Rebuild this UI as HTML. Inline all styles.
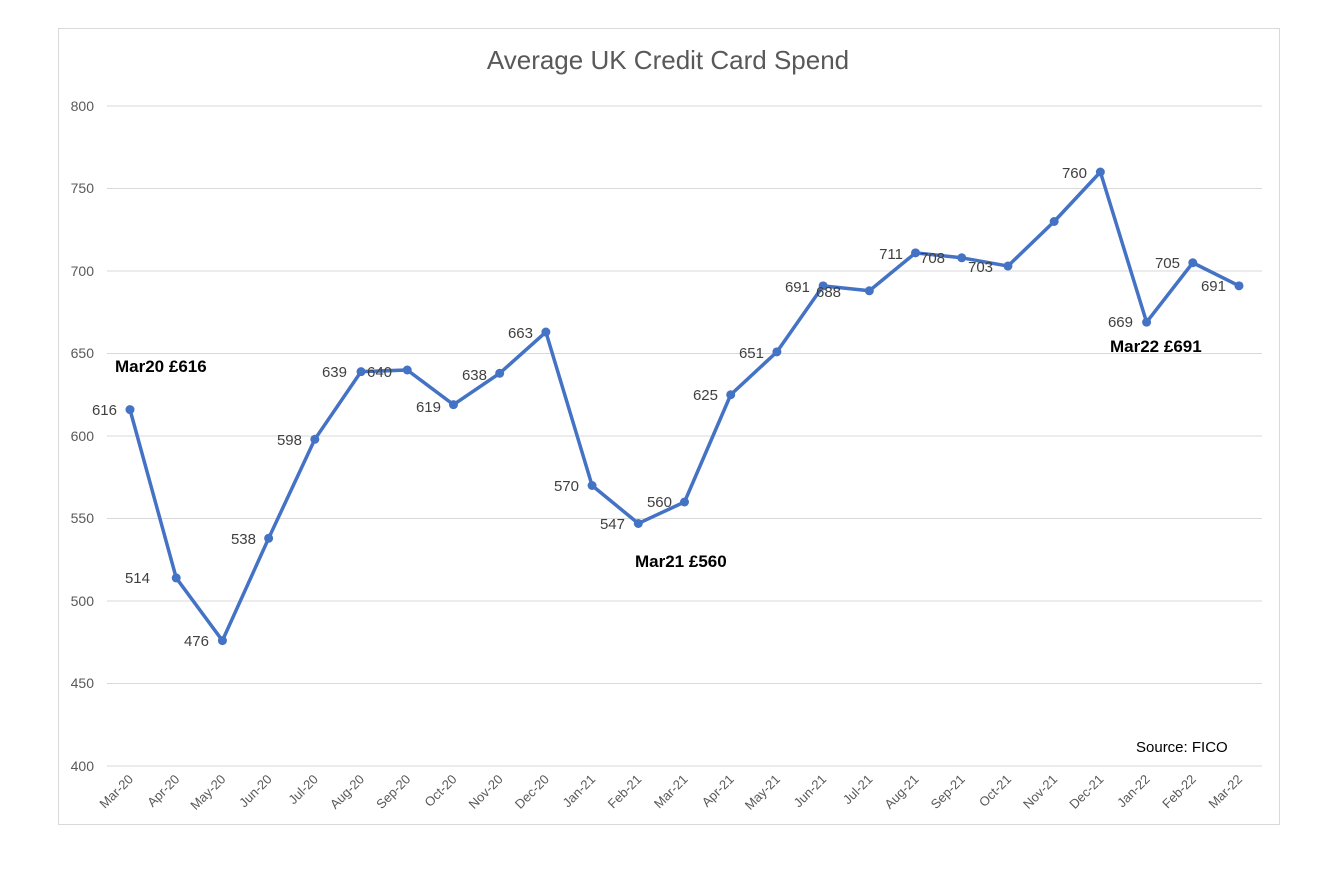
<!DOCTYPE html>
<html><head><meta charset="utf-8"><style>
body{margin:0;background:#fff}
svg{display:block;font-family:"Liberation Sans",sans-serif}
</style></head><body>
<svg width="1325" height="887" viewBox="0 0 1325 887">
<rect x="0" y="0" width="1325" height="887" fill="#fff"/>
<rect x="58.5" y="28.5" width="1221" height="796" fill="#fff" stroke="#d9d9d9"/>
<text x="668" y="69" text-anchor="middle" font-size="26" fill="#595959">Average UK Credit Card Spend</text>
<g stroke="#d9d9d9" stroke-width="1">
<line x1="107" x2="1262" y1="106" y2="106"/><line x1="107" x2="1262" y1="188.5" y2="188.5"/>
<line x1="107" x2="1262" y1="271" y2="271"/><line x1="107" x2="1262" y1="353.5" y2="353.5"/>
<line x1="107" x2="1262" y1="436" y2="436"/><line x1="107" x2="1262" y1="518.5" y2="518.5"/>
<line x1="107" x2="1262" y1="601" y2="601"/><line x1="107" x2="1262" y1="683.5" y2="683.5"/>
<line x1="107" x2="1262" y1="766" y2="766"/>
</g>
<g font-size="14" fill="#595959" text-anchor="end">
<text x="94" y="111">800</text><text x="94" y="193">750</text><text x="94" y="276">700</text>
<text x="94" y="358">650</text><text x="94" y="441">600</text><text x="94" y="523">550</text>
<text x="94" y="606">500</text><text x="94" y="688">450</text><text x="94" y="771">400</text>
</g>
<g id="xl" font-size="13" fill="#595959" text-anchor="end"></g>
<polyline id="ln" fill="none" stroke="#4472C4" stroke-width="3.5" stroke-linejoin="round"/>
<g id="mk" fill="#4472C4"></g>
<g font-size="15" fill="#404040">
<text x="117" y="415" text-anchor="end">616</text>
<text x="150" y="583" text-anchor="end">514</text>
<text x="209" y="646" text-anchor="end">476</text>
<text x="256" y="544" text-anchor="end">538</text>
<text x="302" y="445" text-anchor="end">598</text>
<text x="347" y="377" text-anchor="end">639</text>
<text x="367" y="377">640</text>
<text x="441" y="412" text-anchor="end">619</text>
<text x="487" y="380" text-anchor="end">638</text>
<text x="533" y="338" text-anchor="end">663</text>
<text x="579" y="491" text-anchor="end">570</text>
<text x="625" y="529" text-anchor="end">547</text>
<text x="672" y="507" text-anchor="end">560</text>
<text x="718" y="400" text-anchor="end">625</text>
<text x="764" y="358" text-anchor="end">651</text>
<text x="810" y="292" text-anchor="end">691</text>
<text x="816" y="297">688</text>
<text x="903" y="259" text-anchor="end">711</text>
<text x="920" y="263">708</text>
<text x="968" y="272">703</text>
<text x="1087" y="178" text-anchor="end">760</text>
<text x="1133" y="327" text-anchor="end">669</text>
<text x="1180" y="268" text-anchor="end">705</text>
<text x="1226" y="291" text-anchor="end">691</text>
</g>
<g font-size="17" font-weight="bold" fill="#000">
<text x="115" y="372">Mar20 £616</text>
<text x="635" y="567">Mar21 £560</text>
<text x="1110" y="352">Mar22 £691</text>
</g>
<text x="1136" y="752" font-size="15" fill="#000">Source: FICO</text>
</svg>
<script>
var v=[616,514,476,538,598,639,640,619,638,663,570,547,560,625,651,691,688,711,708,703,730,760,669,705,691];
var m=["Mar","Apr","May","Jun","Jul","Aug","Sep","Oct","Nov","Dec","Jan","Feb"];
var pts=[],mk="",xl="";
for(var i=0;i<25;i++){var x=130+i*46.208,y=766-(v[i]-400)*1.65;pts.push(x+","+y);
mk+='<circle cx="'+x+'" cy="'+y+'" r="4.5"/>';
var yr=i<10?20:(i<22?21:22);var lab=m[i%12]+"-"+yr;
xl+='<text transform="translate('+(x+4)+',780) rotate(-45)">'+lab+'</text>';}
document.getElementById("ln").setAttribute("points",pts.join(" "));
document.getElementById("mk").innerHTML=mk;
document.getElementById("xl").innerHTML=xl;
</script>
</body></html>
